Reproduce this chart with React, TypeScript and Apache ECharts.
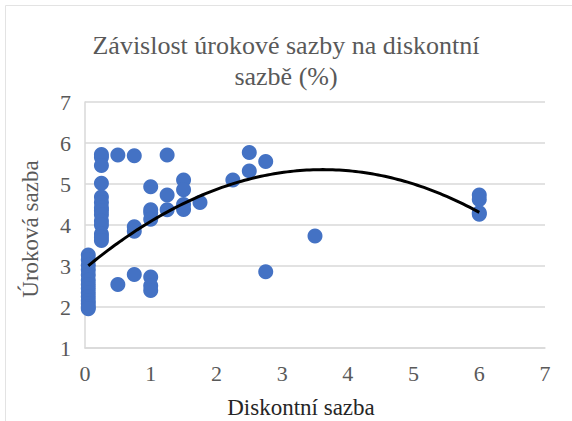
import React, { useEffect, useRef } from "react";
import * as echarts from "echarts";

const TITLE = "Závislost úrokové sazby na diskontní\nsazbě (%)";
const X_NAME = "Diskontní sazba";
const Y_NAME = "Úroková sazba";

// Scatter data: discount rate (x) vs. interest rate (y)
const discountRates: number[] = [
  0.05, 0.05, 0.05, 0.05, 0.05, 0.05, 0.05, 0.05, 0.05, 0.05, 0.05, 0.05, 0.05, 0.05,
  0.25, 0.25, 0.25, 0.25, 0.25, 0.25, 0.25, 0.25, 0.25, 0.25, 0.25, 0.25, 0.25, 0.25,
  0.5, 0.5,
  0.75, 0.75, 0.75, 0.75,
  1, 1, 1, 1, 1, 1, 1,
  1.25, 1.25, 1.25,
  1.5, 1.5, 1.5, 1.5,
  1.75,
  2.25,
  2.5, 2.5,
  2.75, 2.75,
  3.5,
  6, 6, 6, 6,
];
const interestRates: number[] = [
  3.27, 3.15, 3.02, 2.9, 2.78, 2.65, 2.55, 2.45, 2.35, 2.25, 2.15, 2.08, 2.0, 1.96,
  5.72, 5.65, 5.45, 5.02, 4.68, 4.55, 4.42, 4.35, 4.25, 4.1, 4.0, 3.78, 3.7, 3.62,
  5.71, 2.55,
  5.69, 3.96, 3.85, 2.79,
  4.93, 4.37, 4.3, 4.14, 2.73, 2.52, 2.4,
  5.71, 4.73, 4.37,
  5.1, 4.86, 4.5, 4.38,
  4.55,
  5.1,
  5.77, 5.32,
  5.55, 2.86,
  3.73,
  4.73, 4.62, 4.3, 4.26,
];

// Polynomial (order 2) trendline coefficients: y = c0 + c1*x + c2*x^2
const TREND_COEFFS: number[] = [2.94, 1.332, -0.184];
const TREND_X_RANGE: number[] = [0.05, 6];

const X_TICKS = [0, 1, 2, 3, 4, 5, 6, 7];
const Y_TICKS = [1, 2, 3, 4, 5, 6, 7];

export default function App() {
  const ref = useRef<HTMLDivElement>(null);

  useEffect(() => {
    if (!ref.current) return;
    const chart = echarts.init(ref.current, undefined, { renderer: "svg" });

    const points = discountRates.map((x, i) => [x, interestRates[i]]);
    const trend: number[][] = [];
    const steps = 120;
    for (let i = 0; i <= steps; i++) {
      const x = TREND_X_RANGE[0] + ((TREND_X_RANGE[1] - TREND_X_RANGE[0]) * i) / steps;
      trend.push([x, TREND_COEFFS[0] + TREND_COEFFS[1] * x + TREND_COEFFS[2] * x * x]);
    }

    const font = "Times New Roman";

    chart.setOption({
      animation: false,
      backgroundColor: "#ffffff",
      textStyle: { fontFamily: font },
      title: {
        text: TITLE,
        left: "center",
        top: 25,
        textStyle: {
          fontFamily: font,
          fontSize: 26,
          fontWeight: "normal",
          color: "#595959",
          lineHeight: 31,
        },
      },
      grid: { left: 85, right: 27, top: 102, bottom: 73 },
      xAxis: {
        type: "value",
        min: X_TICKS[0],
        max: X_TICKS[X_TICKS.length - 1],
        interval: 1,
        axisLine: { show: true, lineStyle: { color: "#d9d9d9", width: 1.5 } },
        axisTick: { show: false },
        splitLine: { show: false },
        axisLabel: { color: "#595959", fontSize: 22, fontFamily: font, margin: 14 },
      },
      yAxis: {
        type: "value",
        min: Y_TICKS[0],
        max: Y_TICKS[Y_TICKS.length - 1],
        interval: 1,
        axisLine: { show: true, lineStyle: { color: "#d9d9d9", width: 1.5 } },
        axisTick: { show: false },
        splitLine: { show: true, lineStyle: { color: "#d9d9d9", width: 1.5 } },
        axisLabel: { color: "#595959", fontSize: 22, fontFamily: font, margin: 14 },
      },
      graphic: [
        {
          type: "rect",
          shape: { x: 5.5, y: 5.5, width: 600, height: 500 },
          style: { fill: "none", stroke: "#e3e3e3", lineWidth: 1 },
          silent: true,
        },
        {
          type: "text",
          x: 30,
          y: 229,
          rotation: Math.PI / 2,
          style: {
            text: Y_NAME,
            fontFamily: font,
            fontSize: 23,
            fill: "#595959",
            align: "center",
            verticalAlign: "middle",
          },
        },
        {
          type: "text",
          x: 301,
          y: 407,
          style: {
            text: X_NAME,
            fontFamily: font,
            fontSize: 23,
            fill: "#262626",
            align: "center",
            verticalAlign: "middle",
          },
        },
      ],
      series: [
        {
          type: "scatter",
          data: points,
          symbol: "circle",
          symbolSize: 15,
          itemStyle: { color: "#4472C4", opacity: 1 },
          z: 2,
        },
        {
          type: "line",
          data: trend,
          showSymbol: false,
          smooth: false,
          lineStyle: { color: "#000000", width: 3 },
          z: 3,
        },
      ],
    });

    return () => chart.dispose();
  }, []);

  return (
    <div
      ref={ref}
      style={{ position: "fixed", left: 0, top: 0, width: 572, height: 421 }}
    />
  );
}
